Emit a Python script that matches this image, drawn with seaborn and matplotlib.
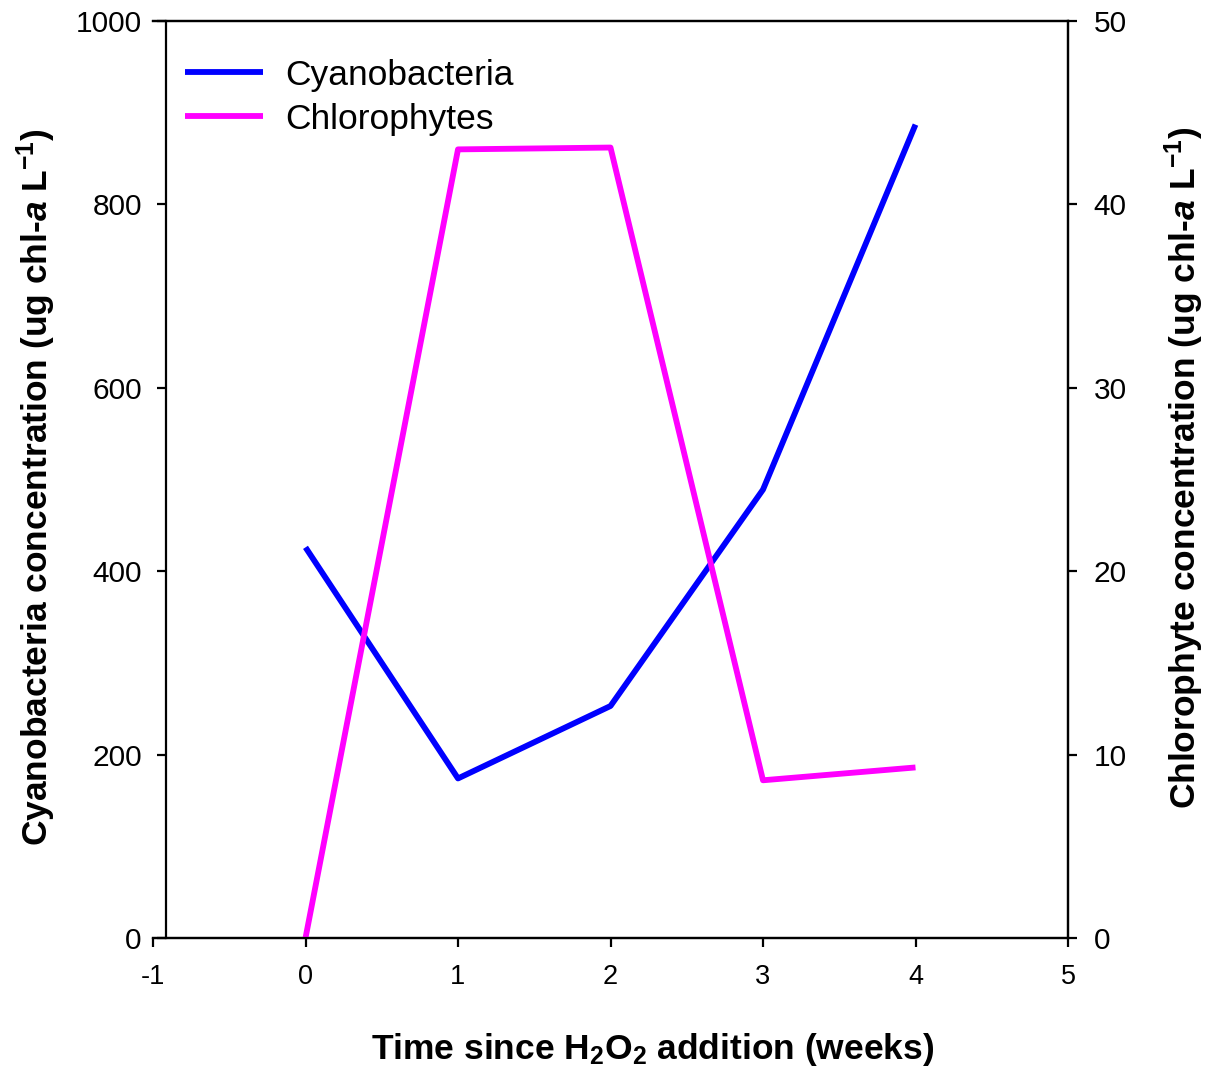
import numpy as np
import pandas as pd
import seaborn as sns
import matplotlib.pyplot as plt

weeks = [0, 1, 2, 3, 4]
cyano = [426, 174, 253, 489, 887]
chloro = [0.0, 43.0, 43.1, 8.6, 9.3]

sns.set_style("ticks")
plt.rcParams['font.family'] = ['Liberation Sans', 'DejaVu Sans']
plt.rcParams['mathtext.fontset'] = 'custom'
plt.rcParams['mathtext.rm'] = 'Liberation Sans'
plt.rcParams['mathtext.bf'] = 'Liberation Sans:bold'
plt.rcParams['mathtext.it'] = 'Liberation Sans:italic'
plt.rcParams['mathtext.bfit'] = 'Liberation Sans:bold:italic'
plt.rcParams['axes.unicode_minus'] = False
plt.rcParams['text.color'] = 'black'
plt.rcParams['axes.labelcolor'] = 'black'
plt.rcParams['xtick.color'] = 'black'
plt.rcParams['ytick.color'] = 'black'

fig = plt.figure(figsize=(12.05, 10.72), dpi=100)
ax = fig.add_axes([153 / 1205, 134 / 1072, 915 / 1205, 917 / 1072])
ax2 = ax.twinx()

df = pd.DataFrame({"week": weeks, "cyano": cyano, "chloro": chloro})
sns.lineplot(data=df, x="week", y="cyano", ax=ax, color="#0000ff", lw=4.2,
             label="Cyanobacteria", legend=False, solid_capstyle="butt")
sns.lineplot(data=df, x="week", y="chloro", ax=ax2, color="#ff00ff", lw=4.2,
             label="Chlorophytes", legend=False, solid_capstyle="butt")

ax.set_xlim(-1, 5)
ax.set_ylim(0, 1000)
ax2.set_ylim(0, 50)
ax.set_xticks(range(-1, 6))
ax.set_yticks(range(0, 1001, 200))
ax2.set_yticks(range(0, 51, 10))

for s in ax.spines.values():
    s.set_linewidth(1.6)
    s.set_color("black")
for s in ax2.spines.values():
    s.set_linewidth(1.6)
    s.set_color("black")
ax2.spines['left'].set_visible(False)
ax.spines['left'].set_position(('outward', -9.4))

ax.tick_params(axis='y', direction='out', length=6.5, width=1.6, labelsize=21.5, pad=11)
ax.tick_params(axis='x', direction='out', length=6.5, width=1.6, labelsize=19.5, pad=12)
ax2.tick_params(axis='y', direction='out', length=6.5, width=1.6, labelsize=21.5, pad=12)

ax.set_xlabel(r"Time since $\mathbf{H_2O_2}$ addition (weeks)", fontsize=25.5,
              fontweight="bold", labelpad=30)
ax.set_ylabel(r"Cyanobacteria concentration (ug chl-$\mathbfit{a}$ L$^{\mathbf{-1}}$)",
              fontsize=25.5, fontweight="bold", labelpad=13)
ax2.set_ylabel(r"Chlorophyte concentration (ug chl-$\mathbfit{a}$ L$^{\mathbf{-1}}$)",
               fontsize=25.5, fontweight="bold", labelpad=26)
ax.xaxis.label.set_x(0.5464)
ax.yaxis.label.set_y(0.4918)
ax2.yaxis.label.set_y(0.5125)

h1, l1 = ax.get_legend_handles_labels()
h2, l2 = ax2.get_legend_handles_labels()
ax2.legend(h1 + h2, l1 + l2, loc="upper left", frameon=False, fontsize=25.5,
           handlelength=2.2, handletextpad=0.62, labelspacing=0.31,
           bbox_to_anchor=(0.0355, 0.959), borderaxespad=0, borderpad=0)

fig.savefig("out.png", dpi=100)
